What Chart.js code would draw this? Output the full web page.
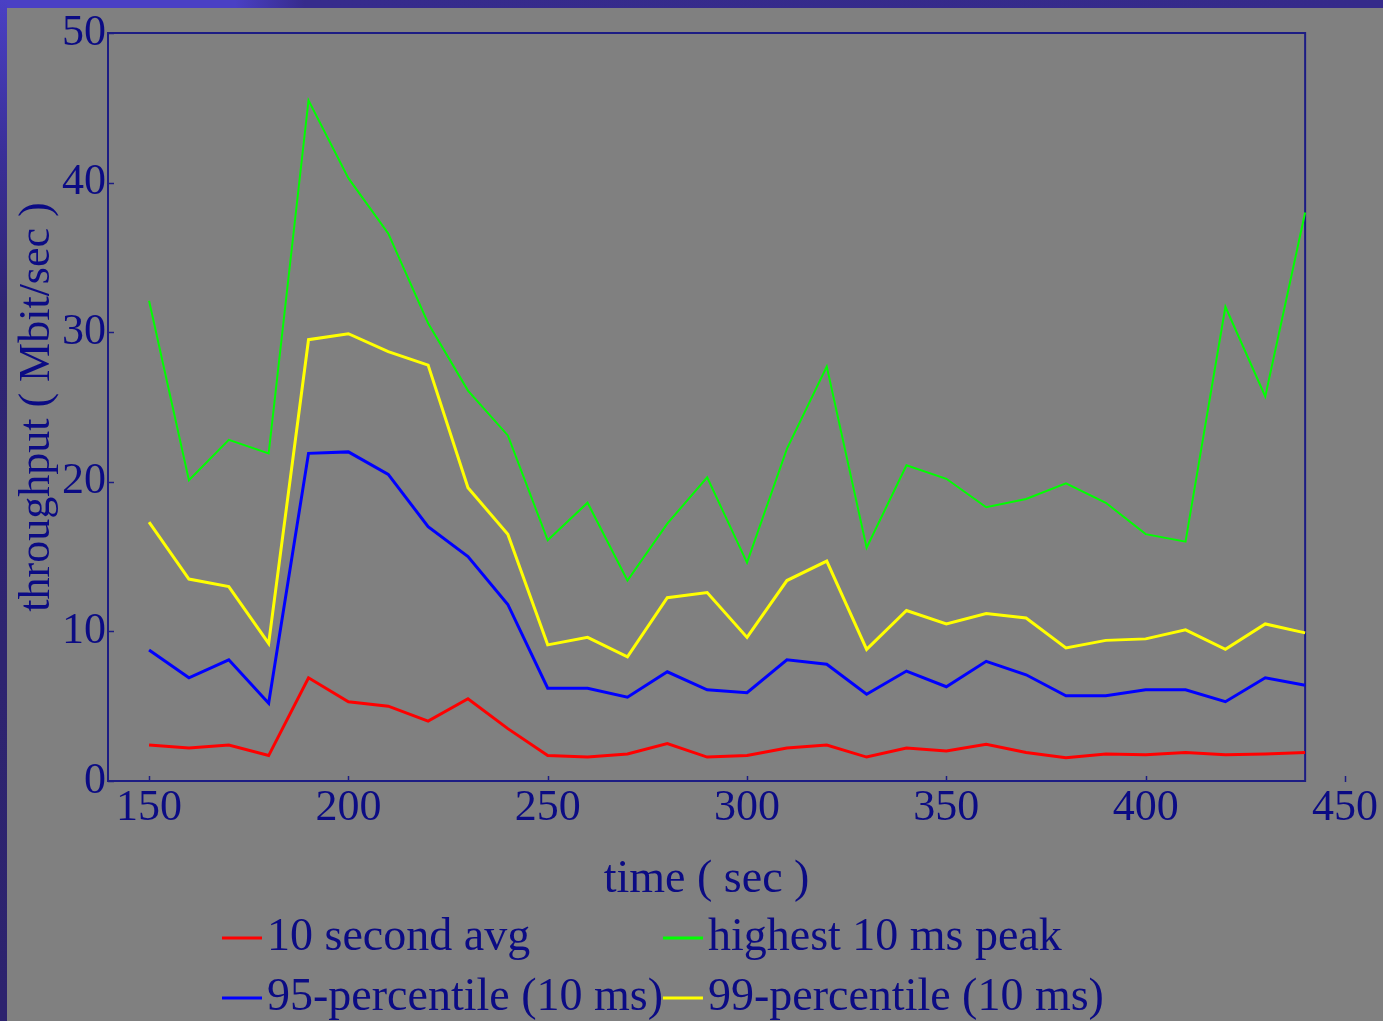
<!DOCTYPE html>
<html>
<head>
<meta charset="utf-8">
<script src="https://cdn.jsdelivr.net/npm/chart.js@4/dist/chart.umd.min.js"></script>
<style>
  html, body { margin: 0; padding: 0; background: #808080; }
  #wrap { width: 1383px; height: 1021px; }
</style>
</head>
<body>
<div id="wrap"><canvas id="chart" width="1383" height="1021"></canvas></div>
<script>
// time of each sample (sec)
const times = [150, 160, 170, 180, 190, 200, 210, 220, 230, 240, 250, 260, 270, 280, 290,
               300, 310, 320, 330, 340, 350, 360, 370, 380, 390, 400, 410, 420, 430, 440];

// throughput series (Mbit/sec)
const avg10s = [2.4, 2.2, 2.4, 1.7, 6.9, 5.3, 5.0, 4.0, 5.5, 3.5, 1.7, 1.6, 1.8, 2.5, 1.6,
                1.7, 2.2, 2.4, 1.6, 2.2, 2.0, 2.45, 1.9, 1.55, 1.8, 1.75, 1.9, 1.75, 1.8, 1.9];
const peak10ms = [32.1, 20.1, 22.8, 21.9, 45.5, 40.3, 36.6, 30.6, 26.1, 23.1, 16.1, 18.6, 13.4, 17.2, 20.3,
                  14.6, 22.2, 27.7, 15.6, 21.1, 20.2, 18.3, 18.85, 19.9, 18.6, 16.5, 16.0, 31.7, 25.7, 38.0];
const pct95 = [8.75, 6.9, 8.1, 5.2, 21.9, 22.0, 20.5, 17.0, 15.0, 11.8, 6.2, 6.2, 5.6, 7.3, 6.1,
               5.9, 8.1, 7.8, 5.8, 7.35, 6.3, 8.0, 7.1, 5.7, 5.7, 6.1, 6.1, 5.3, 6.9, 6.4];
const pct99 = [17.3, 13.5, 13.0, 9.2, 29.5, 29.9, 28.7, 27.8, 19.6, 16.5, 9.1, 9.6, 8.3, 12.25, 12.6,
               9.6, 13.4, 14.7, 8.8, 11.4, 10.5, 11.2, 10.9, 8.9, 9.4, 9.5, 10.1, 8.8, 10.5, 9.9];

const xTicks = [150, 200, 250, 300, 350, 400, 450];
const yTicks = [0, 10, 20, 30, 40, 50];
const xTitle = 'time ( sec )';

const NAVY = '#0b0b84';
const FRAME = '#1c1c84';
const SERIF = "'Liberation Serif', 'Times New Roman', serif";

const pts = vals => vals.map((v, i) => ({ x: times[i], y: v }));

// slide background: blue frame round a gray page
const backdrop = {
  id: 'backdrop',
  beforeDraw(chart) {
    const { ctx, width, height } = chart;
    ctx.save();
    const top = ctx.createLinearGradient(0, 0, width, 0);
    top.addColorStop(0, '#4a40c4');
    top.addColorStop(0.17, '#4a40c4');
    top.addColorStop(0.22, '#362b8c');
    top.addColorStop(1, '#352a8a');
    ctx.fillStyle = top;
    ctx.fillRect(0, 0, width, 8);
    const left = ctx.createLinearGradient(0, 0, 0, height);
    left.addColorStop(0, '#4a40c4');
    left.addColorStop(0.15, '#3a2f98');
    left.addColorStop(0.3, '#2f2572');
    left.addColorStop(1, '#2d236e');
    ctx.fillStyle = left;
    ctx.fillRect(0, 0, 7, height);
    ctx.fillStyle = '#808080';
    ctx.fillRect(7, 8, width - 7, height - 8);
    ctx.restore();
  }
};

// plot box that stops at the last sample, with inward tick marks,
// and the x title centred under that box
const axisBox = {
  id: 'axisBox',
  beforeDatasetsDraw(chart) {
    const { ctx, scales: { x, y } } = chart;
    const l = x.getPixelForValue(x.min);
    const r = x.getPixelForValue(times[times.length - 1]);
    const t = y.getPixelForValue(y.max);
    const b = y.getPixelForValue(y.min);
    ctx.save();
    ctx.strokeStyle = FRAME;
    ctx.lineWidth = 2;
    ctx.strokeRect(l, t, r - l, b - t);
    ctx.lineWidth = 1.5;
    ctx.beginPath();
    xTicks.forEach(v => {
      const px = Math.round(x.getPixelForValue(v)) + 0.5;
      ctx.moveTo(px, b + 1);
      ctx.lineTo(px, b - 5);
    });
    yTicks.forEach(v => {
      const py = Math.round(y.getPixelForValue(v)) + 0.5;
      ctx.moveTo(l, py);
      ctx.lineTo(l + 6, py);
    });
    ctx.stroke();

    ctx.font = '46px ' + SERIF;
    ctx.fillStyle = NAVY;
    ctx.textAlign = 'center';
    ctx.textBaseline = 'middle';
    ctx.fillText(xTitle, (l + r) / 2, 880);
    ctx.restore();
  }
};

// two-column legend under the axis title
const gridLegend = {
  id: 'gridLegend',
  afterDraw(chart) {
    const { ctx, chartArea } = chart;
    const sets = chart.data.datasets;
    ctx.save();
    ctx.font = '46px ' + SERIF;
    ctx.textBaseline = 'middle';
    ctx.textAlign = 'left';
    const sample = 40, gap = 5;
    const col1 = [sets[0], sets[2]];
    const colW = sample + gap + Math.max(...col1.map(d => ctx.measureText(d.label).width));
    const x0 = chartArea.left + 114;
    const rowY = [938, 998];
    sets.forEach((d, i) => {
      const cx = x0 + (i % 2) * colW;
      const cy = rowY[Math.floor(i / 2)];
      ctx.strokeStyle = d.borderColor;
      ctx.lineWidth = 3;
      ctx.beginPath();
      ctx.moveTo(cx, cy);
      ctx.lineTo(cx + sample, cy);
      ctx.stroke();
      ctx.fillStyle = NAVY;
      ctx.fillText(d.label, cx + sample + gap, cy);
    });
    ctx.restore();
  }
};

new Chart(document.getElementById('chart'), {
  type: 'line',
  data: {
    datasets: [
      { label: '10 second avg', data: pts(avg10s), borderColor: '#ff0000', borderWidth: 3 },
      { label: 'highest 10 ms peak', data: pts(peak10ms), borderColor: '#00ff00', borderWidth: 2 },
      { label: '95-percentile (10 ms)', data: pts(pct95), borderColor: '#0000ff', borderWidth: 3 },
      { label: '99-percentile (10 ms)', data: pts(pct99), borderColor: '#ffff00', borderWidth: 3 }
    ]
  },
  options: {
    responsive: false,
    animation: false,
    devicePixelRatio: 1,
    layout: { padding: { left: 0, top: 33, right: 36, bottom: 118 } },
    elements: { point: { radius: 0 }, line: { tension: 0 } },
    plugins: { legend: { display: false }, tooltip: { enabled: false } },
    scales: {
      x: {
        type: 'linear',
        min: 139.7,
        max: 450,
        afterBuildTicks: s => { s.ticks = xTicks.map(v => ({ value: v })); },
        afterFit: s => { s.height = 122; },
        grid: { display: false, drawTicks: false, tickLength: 0 },
        border: { display: false },
        ticks: { color: NAVY, padding: 5, font: { family: SERIF, size: 44, lineHeight: 1 } },
        title: { display: false }
      },
      y: {
        min: 0,
        max: 50,
        afterBuildTicks: s => { s.ticks = yTicks.map(v => ({ value: v })); },
        afterFit: s => { s.width = 108; },
        grid: { display: false, drawTicks: false, tickLength: 0 },
        border: { display: false },
        ticks: { color: NAVY, padding: 2, font: { family: SERIF, size: 44, lineHeight: 1 } },
        title: {
          display: true, text: 'throughput ( Mbit/sec )', color: NAVY,
          padding: { top: 15, bottom: 0 },
          font: { family: SERIF, size: 44, lineHeight: 1 }
        }
      }
    }
  },
  plugins: [backdrop, axisBox, gridLegend]
});
</script>
</body>
</html>
